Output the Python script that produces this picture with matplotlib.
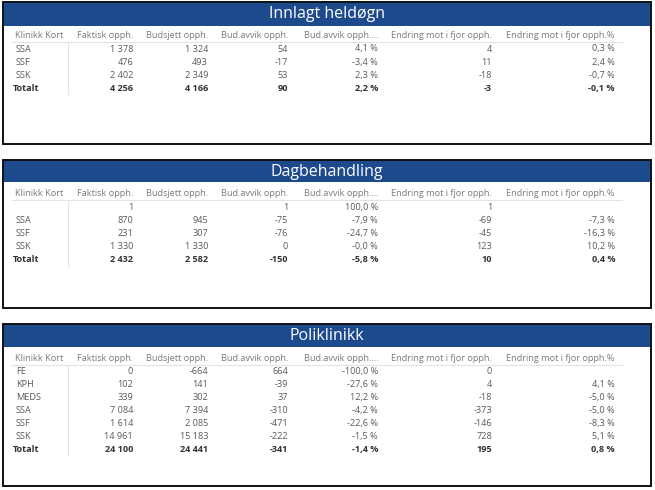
import matplotlib
matplotlib.use("Agg")
import matplotlib.pyplot as plt
from matplotlib.patches import Rectangle

plt.rcParams['font.family'] = ['Open Sans', 'DejaVu Sans']

columns = ["Klinikk Kort", "Faktisk opph.", "Budsjett opph.", "Bud.avvik opph.",
           "Bud.avvik opph....", "Endring mot i fjor opph.", "Endring mot i fjor opph.%"]

# Innlagt heldøgn
t1_title = "Innlagt heldøgn"
t1_klinikk = ["SSA", "SSF", "SSK"]
t1_faktisk = [1378, 476, 2402]
t1_budsjett = [1324, 493, 2349]
t1_avvik = [54, -17, 53]
t1_avvik_pct = [4.1, -3.4, 2.3]
t1_endring = [4, 11, -18]
t1_endring_pct = [0.3, 2.4, -0.7]
t1_total = [4256, 4166, 90, 2.2, -3, -0.1]

# Dagbehandling
t2_title = "Dagbehandling"
t2_klinikk = ["", "SSA", "SSF", "SSK"]
t2_faktisk = [1, 870, 231, 1330]
t2_budsjett = [None, 945, 307, 1330]
t2_avvik = [1, -75, -76, 0]
t2_avvik_pct = [100.0, -7.9, -24.7, -0.0]
t2_endring = [1, -69, -45, 123]
t2_endring_pct = [None, -7.3, -16.3, 10.2]
t2_total = [2432, 2582, -150, -5.8, 10, 0.4]

# Poliklinikk
t3_title = "Poliklinikk"
t3_klinikk = ["FE", "KPH", "MEDS", "SSA", "SSF", "SSK"]
t3_faktisk = [0, 102, 339, 7084, 1614, 14961]
t3_budsjett = [-664, 141, 302, 7394, 2085, 15183]
t3_avvik = [664, -39, 37, -310, -471, -222]
t3_avvik_pct = [-100.0, -27.6, 12.2, -4.2, -22.6, -1.5]
t3_endring = [0, 4, -18, -373, -146, 728]
t3_endring_pct = [None, 4.1, -5.0, -5.0, -8.3, 5.1]
t3_total = [24100, 24441, -341, -1.4, 195, 0.8]


def fmt_int(v):
    if v is None:
        return ""
    s = f"{abs(int(v)):,}".replace(",", " ")
    return ("-" if v < 0 else "") + s


def fmt_pct(v):
    if v is None:
        return ""
    return f"{v:.1f}".replace(".", ",") + " %"


fig = plt.figure(figsize=(6.55, 4.9), dpi=100)
ax = fig.add_axes([0, 0, 1, 1])
ax.set_xlim(0, 655)
ax.set_ylim(490, 0)
ax.axis("off")

BLUE = "#1d4a8c"
TXT = "#595959"
HDR = "#7a7a7a"
BOLD = "#333333"
FS = 6.6

col_right = [None, 133, 208, 288, 378, 492, 615]
col_left0 = 15

panels = [
    dict(title=t1_title, top=2, bottom=144, head_h=24, hdr_y=36, row0=49, dy=13.1,
         rows=(t1_klinikk, t1_faktisk, t1_budsjett, t1_avvik, t1_avvik_pct, t1_endring, t1_endring_pct),
         total=t1_total),
    dict(title=t2_title, top=160, bottom=308, head_h=22, hdr_y=193, row0=207, dy=13.2,
         rows=(t2_klinikk, t2_faktisk, t2_budsjett, t2_avvik, t2_avvik_pct, t2_endring, t2_endring_pct),
         total=t2_total),
    dict(title=t3_title, top=324, bottom=486, head_h=23, hdr_y=358, row0=371, dy=13.0,
         rows=(t3_klinikk, t3_faktisk, t3_budsjett, t3_avvik, t3_avvik_pct, t3_endring, t3_endring_pct),
         total=t3_total),
]

for p in panels:
    top, bottom = p["top"], p["bottom"]
    # header band
    ax.add_patch(Rectangle((3, top), 648, p["head_h"], facecolor=BLUE, edgecolor="none", zorder=1))
    # border
    ax.add_patch(Rectangle((3, top), 648, bottom - top, facecolor="none", edgecolor="#111111",
                           linewidth=1.4, zorder=3))
    ax.text(327, top + p["head_h"] / 2 + 0.5, p["title"], color="white", fontsize=11.5,
            ha="center", va="center", zorder=4)
    # column headers
    hy = p["hdr_y"]
    ax.text(col_left0, hy, columns[0], color=HDR, fontsize=FS, ha="left", va="center")
    for j in range(1, 7):
        ax.text(col_right[j], hy, columns[j], color=HDR, fontsize=FS, ha="right", va="center")
    ax.plot([12, 622], [hy + 6.5, hy + 6.5], color="#e3e3e3", lw=0.8)
    # rows
    kl, fa, bu, av, avp, en, enp = p["rows"]
    n = len(kl)
    for i in range(n):
        y = p["row0"] + i * p["dy"]
        ax.text(col_left0 + 1, y, kl[i], color=TXT, fontsize=FS, ha="left", va="center")
        vals = [fmt_int(fa[i]), fmt_int(bu[i]), fmt_int(av[i]), fmt_pct(avp[i]),
                fmt_int(en[i]), fmt_pct(enp[i])]
        for j, s in enumerate(vals, start=1):
            ax.text(col_right[j], y, s, color=TXT, fontsize=FS, ha="right", va="center")
    yt = p["row0"] + n * p["dy"]
    ax.text(col_left0 - 2, yt, "Totalt", color=BOLD, fontsize=FS, ha="left", va="center",
            fontweight="bold")
    tv = p["total"]
    tvals = [fmt_int(tv[0]), fmt_int(tv[1]), fmt_int(tv[2]), fmt_pct(tv[3]),
             fmt_int(tv[4]), fmt_pct(tv[5])]
    for j, s in enumerate(tvals, start=1):
        ax.text(col_right[j], yt, s, color=BOLD, fontsize=FS, ha="right", va="center",
                fontweight="bold")
    # vertical separator
    ax.plot([68, 68], [p["row0"] - 6, yt + 6], color="#e3e3e3", lw=0.8)

fig.savefig("out.png", dpi=100, facecolor="white")
